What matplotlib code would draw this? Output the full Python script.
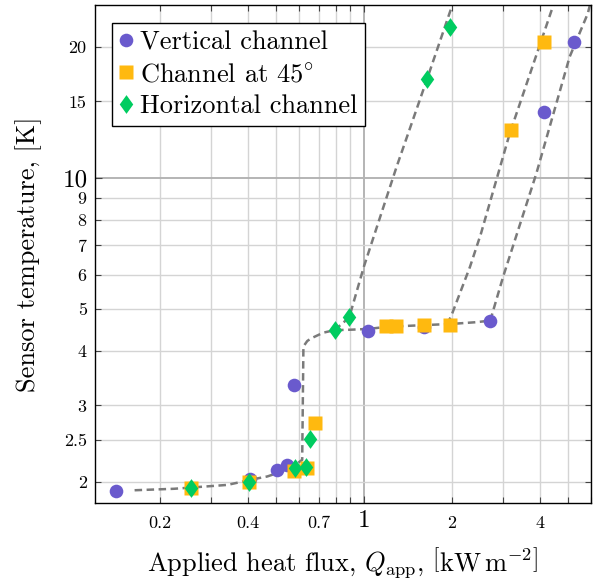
import matplotlib
matplotlib.use("Agg")
import matplotlib.pyplot as plt
from matplotlib.path import Path

plt.rcParams["font.family"] = "serif"
plt.rcParams["font.serif"] = ["cmr10"]
plt.rcParams["mathtext.fontset"] = "cm"
plt.rcParams["axes.unicode_minus"] = False
plt.rcParams["axes.formatter.use_mathtext"] = True

# Measured sensor temperatures vs applied heat flux
x_vertical = [0.142, 0.406, 0.505, 0.544, 0.576, 1.035, 1.61, 2.71, 4.13, 5.24]
T_vertical = [1.91, 2.03, 2.13, 2.19, 3.34, 4.46, 4.54, 4.70, 14.2, 20.5]

x_45 = [0.255, 0.405, 0.576, 0.637, 0.681, 1.19, 1.29, 1.61, 1.97, 3.19, 4.15]
T_45 = [1.935, 2.00, 2.12, 2.15, 2.73, 4.57, 4.57, 4.59, 4.60, 12.9, 20.5]

x_horizontal = [0.255, 0.405, 0.580, 0.633, 0.654, 0.794, 0.891, 1.647, 1.98]
T_horizontal = [1.935, 2.003, 2.15, 2.17, 2.51, 4.47, 4.78, 16.9, 22.3]

# Model curves: common low-flux part with the jump and plateau, then three branches
fit_base_x = [0.164, 0.224, 0.341, 0.418, 0.467, 0.53, 0.58, 0.604, 0.615, 0.621,
              0.64, 0.66, 0.726, 0.794, 0.90, 1.04, 1.2, 1.6, 2.0, 2.4, 2.71]
fit_base_T = [1.915, 1.93, 1.97, 2.03, 2.06, 2.12, 2.18, 2.23, 2.25, 4.10,
              4.22, 4.28, 4.41, 4.47, 4.48, 4.50, 4.55, 4.59, 4.62, 4.66, 4.70]
fit_hor_x = [0.794, 0.891, 1.0, 1.294, 1.647, 2.01]
fit_hor_T = [4.47, 4.78, 6.25, 10.6, 16.9, 25.0]
fit_45_x = [1.93, 2.0, 2.31, 2.52, 3.16, 4.46]
fit_45_T = [4.61, 4.85, 6.25, 7.46, 12.66, 25.0]
fit_vert_x = [2.71, 3.0, 3.9, 5.07, 5.85, 5.95]
fit_vert_T = [4.70, 5.93, 10.25, 19.0, 23.9, 25.0]

x_major = [1]
x_major_labels = ["1"]
x_minor = [0.2, 0.3, 0.4, 0.5, 0.6, 0.7, 0.8, 0.9, 2, 3, 4, 5, 6]
x_minor_labels = ["0.2", "", "0.4", "", "", "0.7", "", "", "2", "", "4", "", ""]
y_major = [10]
y_major_labels = ["10"]
y_minor = [2, 2.5, 3, 4, 5, 6, 7, 8, 9, 15, 20]
y_minor_labels = ["2", "2.5", "3", "4", "5", "6", "7", "8", "9", "15", "20"]

purple = "#6A5ACD"
orange = "#FFB90F"
green = "#00CC60"
dash_gray = "#7a7a7a"

fig = plt.figure(figsize=(5.94, 5.82), dpi=100)
ax = fig.add_axes([95 / 594, 1 - 503 / 582, 496 / 594, 498 / 582])
ax.set_xscale("log")
ax.set_yscale("log")

line_kw = dict(color=dash_gray, lw=1.8, linestyle=(0, (3.0, 1.8)), zorder=2)
for fx, fy in [(fit_base_x, fit_base_T), (fit_hor_x, fit_hor_T),
               (fit_45_x, fit_45_T), (fit_vert_x, fit_vert_T)]:
    ax.plot(fx, fy, **line_kw)

diamond = Path([(0, 1), (0.72, 0), (0, -1), (-0.72, 0), (0, 1)],
               [Path.MOVETO, Path.LINETO, Path.LINETO, Path.LINETO, Path.CLOSEPOLY])

ax.plot(x_vertical, T_vertical, "o", color=purple, ms=9.8, mec="none",
        zorder=3, label="Vertical channel")
ax.plot(x_45, T_45, "s", color=orange, ms=9.5, mec="none",
        zorder=4, label=r"Channel at 45$^{\circ}$")
ax.plot(x_horizontal, T_horizontal, linestyle="none", marker=diamond,
        color=green, ms=13.5, mec="none", zorder=5, label="Horizontal channel")

ax.set_xlim(0.12, 5.98)
ax.set_ylim(1.79, 25.0)

ax.set_xticks(x_major)
ax.set_xticklabels(x_major_labels)
ax.set_xticks(x_minor, minor=True)
ax.set_xticklabels(x_minor_labels, minor=True)
ax.set_yticks(y_major)
ax.set_yticklabels(y_major_labels)
ax.set_yticks(y_minor, minor=True)
ax.set_yticklabels(y_minor_labels, minor=True)

ax.grid(True, which="major", color="#b4b4b4", lw=1.4, zorder=0)
ax.grid(True, which="minor", color="#d4d4d4", lw=1.0, zorder=0)
ax.set_axisbelow(True)

ax.tick_params(which="both", direction="in", top=True, right=True,
               color="#444444", width=0.8)
ax.tick_params(which="major", length=5)
ax.tick_params(which="minor", length=4)
ax.tick_params(axis="x", which="major", labelsize=18, pad=5)
ax.tick_params(axis="x", which="minor", labelsize=13, pad=9)
ax.tick_params(axis="y", which="major", labelsize=18, pad=5)
ax.tick_params(axis="y", which="minor", labelsize=13, pad=6)

for s in ax.spines.values():
    s.set_color("black")
    s.set_linewidth(1.0)

ax.set_xlabel(r"Applied heat flux, $Q_{\mathrm{app}}$, $\left[\mathrm{kW\,m^{-2}}\right]$",
              fontsize=19, labelpad=9)
ax.set_ylabel("Sensor temperature, [K]", fontsize=19, labelpad=15)

leg = ax.legend(loc="upper left", bbox_to_anchor=(0.034, 0.964), borderaxespad=0,
                fontsize=19, frameon=True, fancybox=False, framealpha=1,
                edgecolor="black", handlelength=0.45, handletextpad=0.3,
                labelspacing=0.3, borderpad=0.3)
leg.get_frame().set_linewidth(1.0)

fig.savefig("out.png", dpi=100)
